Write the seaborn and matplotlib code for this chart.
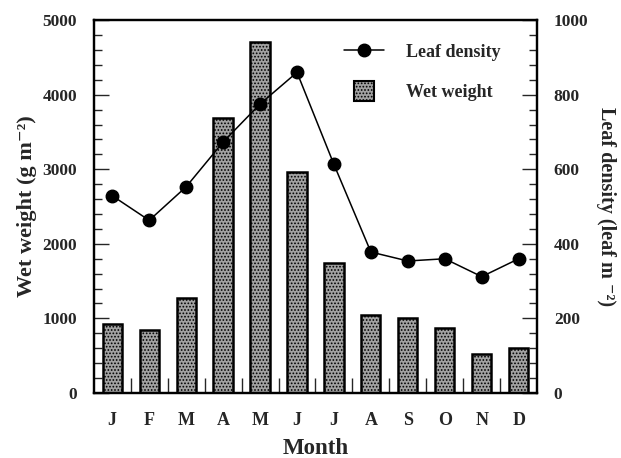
import matplotlib
matplotlib.use("Agg")
import matplotlib.pyplot as plt
import seaborn as sns
import numpy as np
import pandas as pd
from matplotlib.lines import Line2D
from matplotlib.patches import Patch, Rectangle
from matplotlib.legend_handler import HandlerPatch
from matplotlib.ticker import MultipleLocator, FixedLocator

months = ["Jan", "Feb", "Mar", "Apr", "May", "Jun", "Jul", "Aug", "Sep", "Oct", "Nov", "Dec"]
month_labels = ["J", "F", "M", "A", "M", "J", "J", "A", "S", "O", "N", "D"]
wet_weight = [920, 850, 1270, 3690, 4710, 2960, 1740, 1050, 1000, 870, 520, 600]
leaf_density = [529, 463, 553, 673, 775, 860, 613, 378, 354, 360, 312, 360]

sns.set_theme(style="white")
plt.rcParams["font.family"] = ["Liberation Serif", "DejaVu Serif"]
plt.rcParams["font.weight"] = "bold"
plt.rcParams["hatch.linewidth"] = 0.8

BAR_FACE = "#a2a2a2"

df = pd.DataFrame({"month": months, "wet": wet_weight, "dens": leaf_density})

fig, ax = plt.subplots(figsize=(6.21, 4.58), dpi=100)
fig.subplots_adjust(left=0.151, right=0.865, top=0.956, bottom=0.142)

sns.barplot(data=df, x="month", y="wet", ax=ax, order=months, color=BAR_FACE,
            width=0.52, edgecolor="black", linewidth=1.8, saturation=1)
for p in ax.patches:
    p.set_hatch(".....")
    p.set_facecolor(BAR_FACE)
    p.set_edgecolor("black")

ax.set_ylim(0, 5000)
ax.set_xlim(-0.5, 11.5)
ax.yaxis.set_major_locator(MultipleLocator(1000))
ax.yaxis.set_minor_locator(MultipleLocator(200))
ax.set_xticks(range(12))
ax.set_xticklabels(month_labels, fontsize=13, fontweight="bold")
ax.xaxis.set_minor_locator(FixedLocator(np.arange(0.5, 11, 1)))
ax.tick_params(axis="x", which="major", length=0, pad=14)
ax.tick_params(axis="x", which="minor", direction="in", length=11, width=1, bottom=True)
ax.tick_params(axis="y", which="major", direction="in", length=11, width=1, left=True, labelsize=12.5, pad=12)
ax.tick_params(axis="y", which="minor", direction="in", length=6, width=1, left=True)
for lab in ax.get_yticklabels():
    lab.set_fontweight("bold")
ax.set_xlabel("Month", fontsize=16.5, fontweight="bold", labelpad=6)
ax.set_ylabel("Wet weight (g m\u207b\u00b2)", fontsize=16, fontweight="bold", labelpad=4)

ax2 = ax.twinx()
ax2.plot(np.arange(12), leaf_density, color="black", linewidth=1.1, marker="o", markersize=9, zorder=5)
ax2.set_ylim(0, 1000)
ax2.yaxis.set_major_locator(MultipleLocator(200))
ax2.yaxis.set_minor_locator(MultipleLocator(40))
ax2.tick_params(axis="y", which="major", direction="in", length=11, width=1, right=True, labelsize=12.5, pad=12)
ax2.tick_params(axis="y", which="minor", direction="in", length=6, width=1, right=True)
for lab in ax2.get_yticklabels():
    lab.set_fontweight("bold")
ax2.set_ylabel("Leaf density (leaf m \u207b\u00b2)", fontsize=14.5, fontweight="bold", rotation=270, labelpad=20)

for a in (ax, ax2):
    for s in a.spines.values():
        s.set_linewidth(1.6)
        s.set_color("black")


def square_patch(legend, orig_handle, xdescent, ydescent, width, height, fontsize):
    side = 20 * 72 / 100.0
    cx = -xdescent + width / 2
    cy = -ydescent + height / 2
    return Rectangle((cx - side / 2, cy - side / 2), side, side)


handles = [
    Line2D([0], [0], color="black", linewidth=1.1, marker="o", markersize=9),
    Patch(facecolor=BAR_FACE, edgecolor="black", hatch=".....", linewidth=1.5),
]
leg = ax2.legend(handles, ["Leaf density", "Wet weight"], loc="upper left",
                 bbox_to_anchor=(0.528, 0.985), frameon=False,
                 prop={"weight": "bold", "size": 13}, labelspacing=1.15, handlelength=2.2,
                 handleheight=1.2, handletextpad=1.2,
                 handler_map={Patch: HandlerPatch(patch_func=square_patch)})

fig.savefig("out.png", dpi=100)
